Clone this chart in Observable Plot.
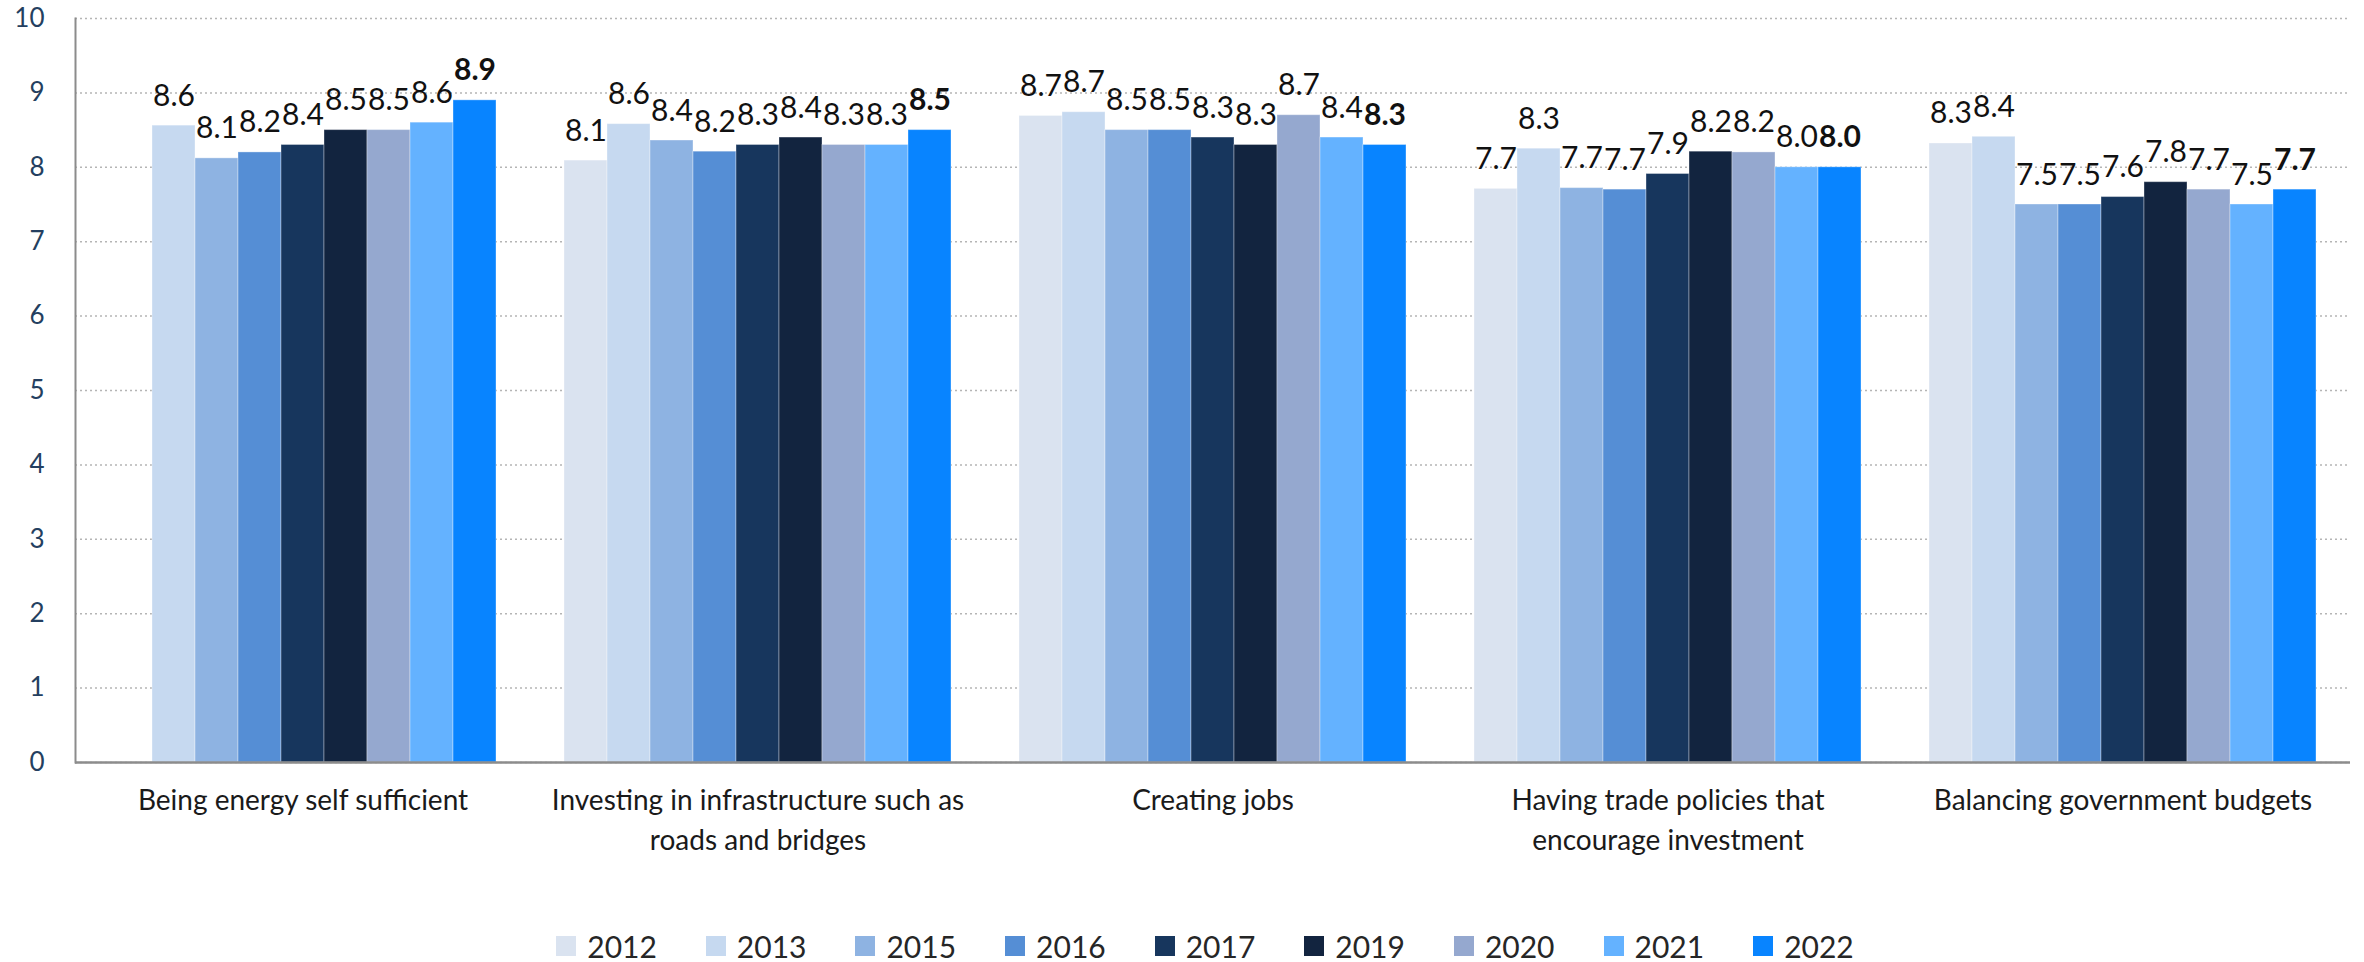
<!DOCTYPE html>
<html>
<head>
<meta charset="utf-8">
<script src="https://cdn.jsdelivr.net/npm/d3@7"></script>
<script src="https://cdn.jsdelivr.net/npm/@observablehq/plot@0.6"></script>
<style>
  html, body { margin: 0; padding: 0; background: #fff; }
  #chart { width: 2364px; }
  .legend { display: flex; justify-content: center; align-items: center; padding-left: 46px; margin-top: 48px;
            font-family: Lato, "Open Sans", sans-serif; font-size: 30px; color: #262626; }
  .legend .item { display: flex; align-items: center; margin-right: 49px; }
  .legend .item:last-child { margin-right: 0; }
  .legend .sw { width: 20px; height: 20px; margin-right: 11px; }
</style>
</head>
<body>
<div id="chart"></div>
<script>
const categories = [
  "Being energy self sufficient",
  "Investing in infrastructure such as\nroads and bridges",
  "Creating jobs",
  "Having trade policies that\nencourage investment",
  "Balancing government budgets"
];
const years = ["2012", "2013", "2015", "2016", "2017", "2019", "2020", "2021", "2022"];
const colors = ["#dae3f0", "#c6d9f0", "#8eb3e2", "#558ed5", "#17365d", "#12243f", "#95a8cf", "#64b2ff", "#0884ff"];

// bar heights per category (year order as above); null = no bar
const energyValues  = [null, 8.56, 8.12, 8.2, 8.3, 8.5, 8.5, 8.6, 8.9];
const infraValues   = [8.09, 8.58, 8.36, 8.21, 8.3, 8.4, 8.3, 8.3, 8.5];
const jobsValues    = [8.69, 8.74, 8.5, 8.5, 8.4, 8.3, 8.7, 8.4, 8.3];
const tradeValues   = [7.71, 8.25, 7.72, 7.7, 7.91, 8.21, 8.2, 8.0, 8.0];
const budgetValues  = [8.32, 8.41, 7.5, 7.5, 7.6, 7.8, 7.7, 7.5, 7.7];

// printed data labels
const energyLabels  = [null, "8.6", "8.1", "8.2", "8.4", "8.5", "8.5", "8.6", "8.9"];
const infraLabels   = ["8.1", "8.6", "8.4", "8.2", "8.3", "8.4", "8.3", "8.3", "8.5"];
const jobsLabels    = ["8.7", "8.7", "8.5", "8.5", "8.3", "8.3", "8.7", "8.4", "8.3"];
const tradeLabels   = ["7.7", "8.3", "7.7", "7.7", "7.9", "8.2", "8.2", "8.0", "8.0"];
const budgetLabels  = ["8.3", "8.4", "7.5", "7.5", "7.6", "7.8", "7.7", "7.5", "7.7"];

const yTicks = [0, 1, 2, 3, 4, 5, 6, 7, 8, 9, 10];

const seriesValues = [energyValues, infraValues, jobsValues, tradeValues, budgetValues];
const seriesLabels = [energyLabels, infraLabels, jobsLabels, tradeLabels, budgetLabels];

const data = [];
categories.forEach((c, i) => {
  years.forEach((yr, j) => {
    const v = seriesValues[i][j];
    if (v != null) data.push({category: c, year: yr, value: v, label: seriesLabels[i][j]});
  });
});

const chart = Plot.plot({
  width: 2364,
  height: 880,
  marginLeft: 75,
  marginRight: 14,
  marginTop: 18,
  marginBottom: 118,
  style: {fontFamily: "Lato, 'Open Sans', sans-serif", background: "#fff", overflow: "visible"},
  fx: {domain: categories, padding: 0, label: null},
  x: {domain: years, paddingInner: 0, paddingOuter: 0.695, axis: null},
  y: {domain: [0, 10], label: null},
  color: {domain: years, range: colors},
  marks: [
    Plot.gridY(yTicks, {stroke: "#b5b5b5", strokeOpacity: 1, strokeWidth: 1.5, strokeDasharray: "2,3"}),
    Plot.barY(data, {fx: "category", x: "year", y: "value", fill: "year", stroke: "#ffffff", strokeOpacity: 0.35, strokeWidth: 1}),
    Plot.ruleY([0], {stroke: "#8c8c8c", strokeWidth: 2.5}),
    Plot.frame({anchor: "left", stroke: "#8c8c8c", strokeWidth: 2, facetAnchor: "left"}),
    Plot.axisY(yTicks, {anchor: "left", tickSize: 0, tickPadding: 31, fontSize: 26, color: "#243f60", label: null, tickFormat: d => String(d)}),
    Plot.axisFx({anchor: "bottom", tickSize: 0, tickPadding: 20, fontSize: 28, lineHeight: 1.4, label: null, color: "#1a1a1a"}),
    Plot.text(data, {filter: d => d.year !== "2022", fx: "category", x: "year", y: "value", text: "label",
      dy: -20, lineAnchor: "bottom", fontSize: 30, fill: "#111"}),
    Plot.text(data, {filter: d => d.year === "2022", fx: "category", x: "year", y: "value", text: "label",
      dy: -20, lineAnchor: "bottom", fontSize: 30, fontWeight: "bold", fill: "#111"})
  ]
});
document.getElementById("chart").appendChild(chart);

const legend = d3.select("body").append("div").attr("class", "legend");
years.forEach((yr, i) => {
  const item = legend.append("div").attr("class", "item");
  item.append("div").attr("class", "sw").style("background", colors[i]);
  item.append("span").text(yr);
});
</script>
</body>
</html>
